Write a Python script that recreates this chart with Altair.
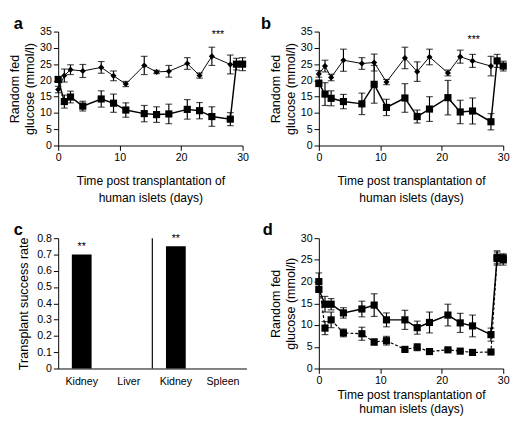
import altair as alt
import pandas as pd

FONT = "Liberation Sans"

# ---------------- data ----------------
days = [0, 1, 2, 4, 7, 9, 11, 14, 16, 18, 21, 23, 25, 28]
days_sq = days + [29, 30]

# panel a
a_dia = [17.2, 21.5, 23.3, 22.9, 24.0, 21.4, 18.9, 24.6, 22.6, 22.8, 25.2, 21.5, 27.4, 24.9]
a_dia_err = [1.0, 2.0, 1.5, 2.0, 1.8, 1.5, 0.8, 2.8, 0.5, 1.8, 1.8, 0.8, 2.8, 2.9]
a_sq = [20.3, 13.5, 14.9, 12.1, 14.3, 13.0, 10.9, 9.8, 9.5, 9.7, 11.1, 10.7, 8.9, 8.1, 25.0, 25.0]
a_sq_err = [0.8, 2.0, 1.8, 1.5, 2.5, 2.8, 2.2, 2.5, 2.4, 3.0, 3.0, 2.5, 3.0, 2.0, 1.8, 2.0]

# panel b
b_dia = [22.0, 24.4, 20.9, 26.2, 25.2, 25.5, 19.5, 26.9, 22.7, 27.2, 22.3, 27.3, 26.0, 24.4]
b_dia_err = [1.0, 1.8, 1.0, 3.4, 1.8, 2.6, 0.8, 3.3, 3.0, 2.4, 0.9, 2.0, 2.0, 3.0]
b_sq = [19.1, 15.8, 14.5, 13.5, 12.8, 18.8, 11.7, 14.6, 8.9, 11.2, 14.7, 10.3, 10.6, 7.3, 26.0, 24.4]
b_sq_err = [1.0, 3.5, 2.3, 2.2, 3.3, 5.8, 2.5, 4.4, 2.0, 3.8, 5.3, 3.6, 4.0, 2.5, 2.0, 1.5]

# panel c
c_cats = ["Kidney", "Liver", "Kidney (2)", "Spleen"]
c_vals = [0.70, 0.0, 0.75, 0.0]
c_stars = ["**", "", "**", ""]

# panel d
d_solid = [18.2, 14.8, 14.8, 12.8, 13.7, 14.6, 11.2, 11.2, 9.4, 10.6, 12.3, 10.5, 9.8, 7.8, 25.6, 25.4]
d_solid_err = [0.5, 1.8, 1.3, 1.2, 1.8, 2.6, 1.6, 2.2, 1.5, 2.4, 2.5, 2.2, 2.5, 1.5, 1.5, 1.0]
d_dash = [20.0, 9.3, 11.2, 8.2, 8.0, 6.1, 6.4, 4.4, 4.9, 3.9, 4.3, 4.0, 3.7, 3.8, 25.3, 25.0]
d_dash_err = [2.0, 1.5, 1.8, 0.9, 1.5, 0.7, 1.0, 0.3, 0.8, 0.3, 0.3, 0.2, 0.2, 0.2, 1.5, 1.2]

x_title = ["Time post transplantation of", "human islets (days)"]
y_title = ["Random fed", "glucose (mmol/l)"]


def letter(t, dx):
    return alt.TitleParams(t, anchor="start", frame="group", fontSize=17, fontWeight="bold",
                           font=FONT, dx=dx, offset=-7, color="black")


def time_panel(title, dx, series, ymax, height, stars=None, xtpad=12, xtlh=18):
    xs = alt.Scale(domain=[0, 30], nice=False)
    ys = alt.Scale(domain=[0, ymax], nice=False)
    xa = alt.Axis(values=[0, 10, 20, 30], title=x_title, titleFontSize=12.5,
                  titleLineHeight=xtlh, titlePadding=xtpad, labelFlush=False)
    ya = alt.Axis(values=list(range(0, ymax + 1, 5)), title=y_title, titleFontSize=13,
                  titleLineHeight=16, titlePadding=3)

    def X(f):
        return alt.X(f, type="quantitative", scale=xs, axis=xa)

    def Y(f):
        return alt.Y(f, type="quantitative", scale=ys, axis=ya)

    layers = []
    for xv, yv, ev, shape, size, dash, lw in series:
        df = pd.DataFrame({"day": xv, "val": yv,
                           "lo": [v - e for v, e in zip(yv, ev)],
                           "hi": [v + e for v, e in zip(yv, ev)]})
        base = alt.Chart(df)
        lkw = dict(color="black", strokeWidth=lw)
        if dash:
            lkw["strokeDash"] = dash
        layers.append(base.mark_line(**lkw).encode(x=X("day"), y=Y("val")))
        layers.append(base.mark_rule(color="black", strokeWidth=1.2).encode(
            x=X("day"), y=Y("lo"), y2="hi"))
        layers.append(base.mark_tick(orient="horizontal", size=7, thickness=1.2, color="black").encode(
            x=X("day"), y=Y("lo")))
        layers.append(base.mark_tick(orient="horizontal", size=7, thickness=1.2, color="black").encode(
            x=X("day"), y=Y("hi")))
        layers.append(base.mark_point(shape=shape, filled=True, size=size, color="black",
                                      opacity=1).encode(x=X("day"), y=Y("val")))
    if stars:
        sdf = pd.DataFrame({"day": [stars[0]], "val": [stars[1]], "t": ["***"]})
        layers.append(alt.Chart(sdf).mark_text(font=FONT, fontSize=11, fill="black").encode(
            x=X("day"), y=Y("val"), text="t:N"))
    return alt.layer(*layers).properties(width=191, height=height, title=letter(title, dx))


pa = time_panel("a", -46, [
    (days, a_dia, a_dia_err, "diamond", 40, None, 1.0),
    (days_sq, a_sq, a_sq_err, "square", 55, None, 1.5),
], 35, 118, stars=(26, 33.8))

pb = time_panel("b", -60, [
    (days, b_dia, b_dia_err, "diamond", 40, None, 1.0),
    (days_sq, b_sq, b_sq_err, "square", 55, None, 1.5),
], 35, 118, stars=(25.2, 32.5))

pd_ = time_panel("d", -58, [
    (days_sq, d_solid, d_solid_err, "square", 55, None, 1.5),
    (days_sq, d_dash, d_dash_err, "square", 55, [3, 2], 1.2),
], 30, 135, xtpad=3, xtlh=15)

# panel c
cdf = pd.DataFrame({"cat": c_cats, "val": c_vals, "star": c_stars})
cx = alt.X("cat:N", sort=c_cats,
           scale=alt.Scale(domain=c_cats, paddingInner=0, paddingOuter=0),
           axis=alt.Axis(title=None, ticks=False, labelAngle=0, labelPadding=8,
                         labelExpr="split(datum.label, ' ')[0]"))
cy = alt.Y("val:Q", scale=alt.Scale(domain=[0, 0.8], nice=False),
           axis=alt.Axis(values=[0, 0.1, 0.2, 0.3, 0.4, 0.5, 0.6, 0.7, 0.8],
                         labelExpr="datum.value == 0 ? '0' : format(datum.value, '.1f')",
                         title="Transplant success rate", titleFontSize=13, titlePadding=6))
cbase = alt.Chart(cdf)
bars = cbase.mark_bar(color="black", width=alt.RelativeBandSize(0.42)).encode(x=cx, y=cy)
ctext = cbase.mark_text(font=FONT, fontSize=11, baseline="bottom", dy=-3, fill="black").encode(
    x=cx, y=cy, text="star:N")
sep = alt.Chart(pd.DataFrame({"cat": ["Kidney (2)"]})).mark_rule(color="black", strokeWidth=1.2).encode(
    x=alt.X("cat:N", sort=c_cats, bandPosition=0,
            scale=alt.Scale(domain=c_cats, paddingInner=0, paddingOuter=0)))
pc = alt.layer(bars, ctext, sep).properties(width=195, height=135, title=letter("c", -46))

chart = alt.concat(pa, pb, pc, pd_, columns=2, spacing={"row": 96, "column": 75},
                   bounds="flush").properties(
    padding={"left": 0, "top": 0, "right": 0, "bottom": 0}
).configure(font=FONT, background="white").configure_view(stroke=None).configure_axis(
    domainColor="black", tickColor="black", labelColor="black", titleColor="black",
    labelFont=FONT, titleFont=FONT, labelFontSize=11, titleFontWeight="normal",
    grid=False, tickSize=5, labelPadding=2, domainWidth=1, tickWidth=1
)

chart.save("out.html", embed_options={"renderer": "svg", "actions": False})
